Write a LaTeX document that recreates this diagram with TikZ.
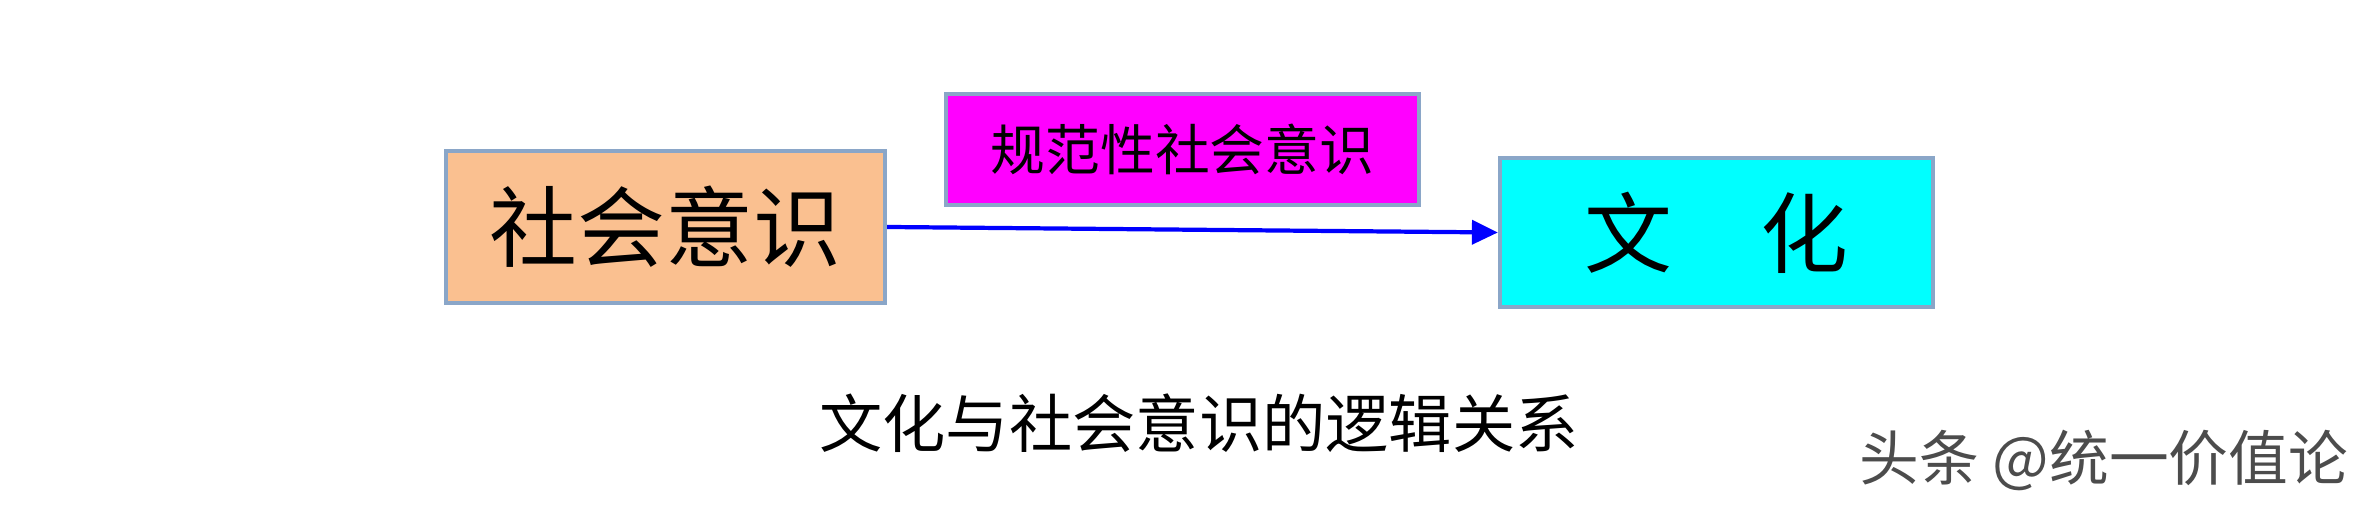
\documentclass[tikz,border=0pt]{standalone}
\usepackage{fontspec}
\setmainfont{Noto Sans CJK SC}
\newfontfamily\cjk{Noto Sans CJK SC}
\usepackage{tikz}
\usetikzlibrary{arrows.meta}
\definecolor{peach}{HTML}{FAC090}
\definecolor{frame}{HTML}{8AA6C8}
\definecolor{pinkbox}{HTML}{FF00FF}
\definecolor{aqua}{HTML}{00FFFF}
\tikzset{
	box/.style={draw=frame, line width=1.2pt, inner sep=0pt, font=\cjk},
	big/.style={font=\cjk\fontsize{25}{29}\selectfont},
	small/.style={font=\cjk\fontsize{18}{21}\selectfont},
}

\begin{document}
\begin{tikzpicture}
	% page size of the reference
	\useasboundingbox (0,0) rectangle (23.7,5.15);
	
	% the three boxes
	\node[box, big, fill=peach, minimum width=4.39cm, minimum height=1.52cm] (society) at (6.655,2.88) {社会意识};
	\node[box, font=\cjk\fontsize{15.6}{19}\selectfont, fill=pinkbox, minimum width=4.73cm, minimum height=1.11cm] (norms) at (11.825,3.655) {规范性社会意识};
	\node[box, big, fill=aqua, minimum width=4.33cm, minimum height=1.49cm] (culture) at (17.165,2.825) {文\hspace{1em}化};
	
	% arrow from society to culture
	\draw[blue, line width=1.2pt, -{Triangle[length=0.26cm,width=0.24cm]}] (society.east) -- (culture.west);
	
	% caption and mark
	\node[small] (caption) at (11.99,0.92) {文化与社会意识的逻辑关系};
	\node[font=\cjk\fontsize{17}{20}\selectfont, text=black!70] (mark) at (21.04,0.55) {头条 @统一价值论};
\end{tikzpicture}
\end{document}
